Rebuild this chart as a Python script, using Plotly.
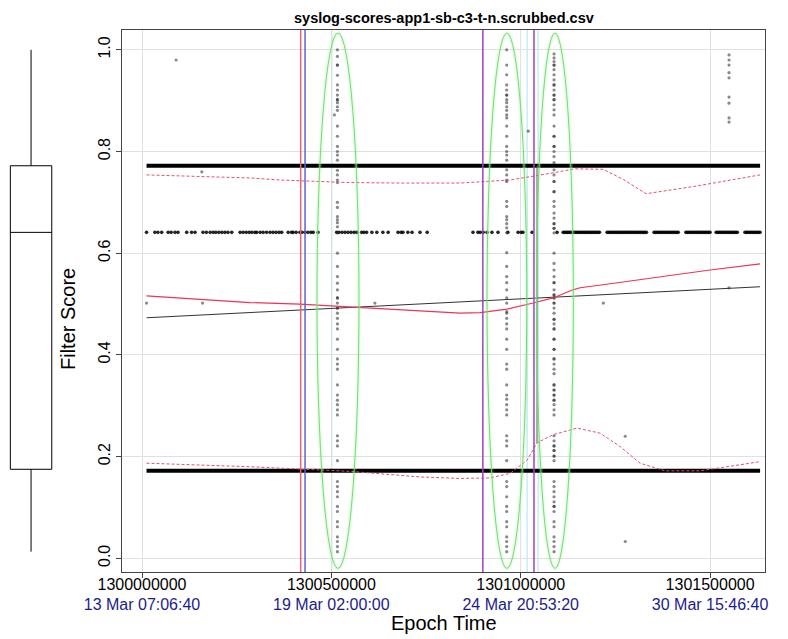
import plotly.graph_objects as go

BASE = 1300000000
# x values stored as thousands of seconds after BASE
band_k = [12, 34, 42, 52, 69, 77, 87, 95, 118, 131, 140, 161, 170, 180, 188, 195, 203, 211, 219, 227,
          237, 259, 267, 275, 283, 290, 298, 303, 312, 320, 329, 338, 346, 354, 362, 369, 386, 395,
          399, 407, 417, 422, 430, 438, 446, 452, 465, 514, 520, 528, 536, 544, 552, 560, 567, 580,
          586, 593, 607, 620, 636, 650, 676, 684, 689, 702, 713, 734, 753, 874, 887, 893, 901, 911,
          924, 940, 966, 993, 1001, 1006, 1030, 1096, 1112, 1116, 1120, 1124, 1128, 1132, 1136, 1140,
          1144, 1148, 1152, 1156, 1160, 1164, 1168, 1172, 1176, 1180, 1184, 1188, 1192, 1196, 1200,
          1204, 1208, 1228, 1232, 1236, 1240, 1244, 1248, 1252, 1256, 1260, 1264, 1268, 1272, 1276,
          1280, 1284, 1288, 1292, 1296, 1300, 1304, 1308, 1312, 1316, 1320, 1324, 1328, 1332, 1352,
          1356, 1360, 1364, 1368, 1372, 1376, 1380, 1384, 1388, 1392, 1396, 1400, 1404, 1408, 1412,
          1416, 1436, 1440, 1444, 1448, 1452, 1456, 1460, 1464, 1468, 1472, 1476, 1480, 1484, 1488,
          1492, 1496, 1500, 1516, 1520, 1524, 1528, 1532, 1536, 1540, 1544, 1548, 1552, 1556, 1560,
          1564, 1568, 1572, 1592, 1596, 1600, 1604, 1608, 1612, 1616, 1620, 1624, 1628, 1632]
band_score = 0.641

col1_k = 516
col1_scores = [1.0, 0.987, 0.97, 0.97, 0.95, 0.931, 0.921, 0.911, 0.902, 0.902, 0.896, 0.888, 0.881,
               0.85, 0.83, 0.81, 0.80, 0.793, 0.783, 0.772, 0.772, 0.763, 0.754, 0.744, 0.739, 0.70,
               0.69, 0.672, 0.666, 0.66, 0.652, 0.64, 0.60, 0.574, 0.554, 0.541, 0.528, 0.512, 0.512,
               0.502, 0.492, 0.492, 0.482, 0.472, 0.461, 0.451, 0.431, 0.411, 0.392, 0.382, 0.372,
               0.341, 0.321, 0.311, 0.302, 0.292, 0.282, 0.241, 0.231, 0.221, 0.192, 0.172, 0.151,
               0.141, 0.131, 0.121, 0.102, 0.092, 0.072, 0.062, 0.042, 0.033, 0.023, 0.013]
col2_k = 963
col2_scores = [1.0, 0.97, 0.951, 0.931, 0.921, 0.911, 0.911, 0.902, 0.896, 0.888, 0.881, 0.872, 0.866,
               0.85, 0.83, 0.81, 0.80, 0.793, 0.783, 0.764, 0.754, 0.744, 0.741, 0.702, 0.692, 0.672,
               0.666, 0.658, 0.65, 0.64, 0.601, 0.574, 0.554, 0.542, 0.528, 0.512, 0.502, 0.485, 0.482,
               0.472, 0.461, 0.451, 0.431, 0.411, 0.382, 0.372, 0.341, 0.321, 0.313, 0.302, 0.292,
               0.282, 0.241, 0.231, 0.221, 0.192, 0.151, 0.141, 0.121, 0.102, 0.092, 0.072, 0.062,
               0.042, 0.033, 0.023, 0.013]
col3_k = 1088
col3_scores = [0.992, 0.984, 0.977, 0.97, 0.97, 0.961, 0.951, 0.941, 0.931, 0.931, 0.921, 0.911, 0.911,
               0.902, 0.902, 0.892, 0.882, 0.872, 0.85, 0.83, 0.83, 0.81, 0.81, 0.80, 0.79, 0.778,
               0.764, 0.754, 0.741, 0.741, 0.721, 0.721, 0.702, 0.692, 0.679, 0.669, 0.658, 0.658,
               0.649, 0.649, 0.64, 0.60, 0.58, 0.567, 0.554, 0.542, 0.542, 0.528, 0.518, 0.518, 0.512,
               0.512, 0.502, 0.502, 0.492, 0.482, 0.47, 0.47, 0.461, 0.451, 0.451, 0.431, 0.431, 0.411,
               0.411, 0.392, 0.392, 0.382, 0.372, 0.363, 0.341, 0.341, 0.331, 0.331, 0.321, 0.321,
               0.311, 0.311, 0.302, 0.292, 0.282, 0.241, 0.231, 0.221, 0.221, 0.212, 0.212, 0.201,
               0.201, 0.192, 0.151, 0.141, 0.131, 0.121, 0.111, 0.102, 0.102, 0.092, 0.072, 0.062,
               0.042, 0.033, 0.023, 0.013]

other_k = [90, 158, 12, 160, 615, 1020, 1218, 1276, 1276, 1550, 1550, 1550, 1550, 1550, 1550, 1550,
           1550, 1550, 1550, 508]
other_scores = [0.98, 0.76, 0.502, 0.502, 0.502, 0.84, 0.502, 0.24, 0.033, 0.99, 0.98, 0.97, 0.955,
                0.945, 0.907, 0.895, 0.866, 0.858, 0.532, 0.872]

# summary lines
q_k = [12, 1632]
q3 = 0.772
q1 = 0.172
lin_k = [12, 1632]
lin_y = [0.473, 0.534]
step_k = [1043, 1043]
step_y = [0.227, 0.772]

loess_k = [12, 153, 285, 417, 549, 681, 787, 840, 893, 964, 1033, 1085, 1138, 1157, 1217, 1368, 1500, 1632]
loess_y = [0.516, 0.509, 0.503, 0.4997, 0.494, 0.488, 0.483, 0.482, 0.483, 0.49, 0.502, 0.512, 0.528,
           0.532, 0.538, 0.554, 0.567, 0.579]
upper_k = [12, 285, 364, 541, 681, 840, 972, 1025, 1085, 1143, 1218, 1271, 1331, 1455, 1632]
upper_y = [0.754, 0.748, 0.744, 0.739, 0.738, 0.738, 0.744, 0.75, 0.758, 0.766, 0.765, 0.745, 0.717,
           0.731, 0.754]
lower_k = [12, 285, 549, 734, 840, 919, 972, 1017, 1043, 1085, 1149, 1210, 1262, 1315, 1381, 1474, 1632]
lower_y = [0.187, 0.18, 0.171, 0.16, 0.157, 0.158, 0.167, 0.193, 0.227, 0.243, 0.256, 0.246, 0.22,
           0.187, 0.172, 0.172, 0.19]

event_k = [419, 430.5, 900, 1035]
event_colors = ["#f06070", "#6060d8", "#a040c8", "#a040c8"]
faint_k = [501, 1017, 1046]

ellipse_k = [(462, 573), (911, 1016), (1042, 1139)]
ellipse_y = (-0.02, 1.033)

box_stats = dict(q1=0.175, median=0.641, q3=0.772, lower=0.013, upper=1.0)

tick_vals = [1300000000, 1300500000, 1301000000, 1301500000]
tick_dates = ["13 Mar 07:06:40", "19 Mar 02:00:00", "24 Mar 20:53:20", "30 Mar 15:46:40"]
y_ticks = [0.0, 0.2, 0.4, 0.6, 0.8, 1.0]

Y_RANGE = [-0.027, 1.039]
X_RANGE = [1299947200, 1301645000]


def ex(ks):
    return [BASE + k * 1000 for k in ks]


fig = go.Figure()
for k in faint_k:
    fig.add_shape(type="line", xref="x", yref="paper", x0=BASE + k * 1000, x1=BASE + k * 1000,
                  y0=0, y1=1, line=dict(color="#c6eef6", width=1.5), layer="below")

pt = dict(mode="markers", marker=dict(size=3.2, color="rgba(40,40,40,0.55)"), showlegend=False,
          hoverinfo="skip")
fig.add_trace(go.Scatter(x=ex(band_k), y=[band_score] * len(band_k), mode="markers",
                         marker=dict(size=3.6, color="rgba(0,0,0,0.85)"), showlegend=False))
for ck, cs in [(col1_k, col1_scores), (col2_k, col2_scores), (col3_k, col3_scores)]:
    fig.add_trace(go.Scatter(x=ex([ck] * len(cs)), y=cs, **pt))
fig.add_trace(go.Scatter(x=ex(other_k), y=other_scores, **pt))

fig.add_trace(go.Scatter(x=ex(q_k), y=[q3, q3], mode="lines", line=dict(color="black", width=4),
                         showlegend=False))
fig.add_trace(go.Scatter(x=ex(q_k), y=[q1, q1], mode="lines", line=dict(color="black", width=4),
                         showlegend=False))
fig.add_trace(go.Scatter(x=ex(lin_k), y=lin_y, mode="lines", line=dict(color="#333333", width=1),
                         showlegend=False))
fig.add_trace(go.Scatter(x=ex(step_k), y=step_y, mode="lines", line=dict(color="#555555", width=1),
                         showlegend=False))
fig.add_trace(go.Scatter(x=ex(loess_k), y=loess_y, mode="lines", line=dict(color="#ee3355", width=1.2),
                         showlegend=False))
fig.add_trace(go.Scatter(x=ex(upper_k), y=upper_y, mode="lines",
                         line=dict(color="#e8506a", width=1, dash="3px,2px"), showlegend=False))
fig.add_trace(go.Scatter(x=ex(lower_k), y=lower_y, mode="lines",
                         line=dict(color="#e8506a", width=1, dash="3px,2px"), showlegend=False))

for k, c in zip(event_k, event_colors):
    fig.add_shape(type="line", xref="x", yref="paper", x0=BASE + k * 1000, x1=BASE + k * 1000,
                  y0=0, y1=1, line=dict(color=c, width=1.5))
for k0, k1 in ellipse_k:
    fig.add_shape(type="circle", xref="x", yref="y", x0=BASE + k0 * 1000, x1=BASE + k1 * 1000,
                  y0=ellipse_y[0], y1=ellipse_y[1], line=dict(color="rgba(150,240,150,0.22)", width=4))
    fig.add_shape(type="circle", xref="x", yref="y", x0=BASE + k0 * 1000, x1=BASE + k1 * 1000,
                  y0=ellipse_y[0], y1=ellipse_y[1], line=dict(color="#70dd70", width=1))

fig.add_trace(go.Box(x=[0.45], q1=[box_stats["q1"]], median=[box_stats["median"]], q3=[box_stats["q3"]],
                     lowerfence=[box_stats["lower"]], upperfence=[box_stats["upper"]],
                     xaxis="x2", yaxis="y2", width=0.6, whiskerwidth=0, fillcolor="white",
                     line=dict(color="black", width=1), showlegend=False, boxpoints=False))
# second-line (date) tick labels on an overlaying axis
fig.add_trace(go.Scatter(x=X_RANGE, y=[None, None], xaxis="x3", yaxis="y", showlegend=False,
                         hoverinfo="skip"))

fig.update_layout(
    width=788, height=639, margin=dict(l=0, r=23, t=30, b=67, autoexpand=False),
    paper_bgcolor="white", plot_bgcolor="white", showlegend=False,
    font=dict(family="Liberation Sans, Arial, sans-serif", color="black"),
    xaxis=dict(domain=[122 / 765, 1], range=X_RANGE, tickvals=tick_vals,
               ticktext=[str(v) for v in tick_vals], tickfont=dict(size=16), ticks="outside",
               ticklen=5, tickcolor="#444", showgrid=True, gridcolor="#e0e0e0", gridwidth=1,
               zeroline=False, showline=True, linecolor="#444", linewidth=1, mirror=True,
               ticklabelstandoff=-7, automargin=False, anchor="y"),
    xaxis3=dict(overlaying="x", range=X_RANGE, tickvals=tick_vals, ticktext=tick_dates,
                tickfont=dict(size=16, color="#1c1c8c"), ticks="", showgrid=False, zeroline=False,
                showline=False, side="bottom", anchor="y", ticklabelstandoff=21, automargin=False),
    xaxis2=dict(domain=[0, 69 / 765], range=[0, 1], visible=False, anchor="y2", automargin=False),
    yaxis=dict(range=Y_RANGE, tickvals=y_ticks, ticktext=[f"{v:.1f}" for v in y_ticks],
               tickangle=-90, tickfont=dict(size=16), ticks="outside", ticklen=5, tickcolor="#444",
               showgrid=True, gridcolor="#e0e0e0", gridwidth=1, zeroline=False, showline=True,
               linecolor="#444", linewidth=1, mirror=True, anchor="x", automargin=False),
    yaxis2=dict(range=Y_RANGE, visible=False, anchor="x2", automargin=False),
    annotations=[
        dict(text="<b>syslog-scores-app1-sb-c3-t-n.scrubbed.csv</b>", xref="paper", yref="paper",
             x=(122 + 765) / 2 / 765, y=1, yshift=12, showarrow=False, font=dict(size=14.5),
             xanchor="center", yanchor="middle"),
        dict(text="Epoch Time", xref="paper", yref="paper", x=(122 + 765) / 2 / 765, y=0,
             yshift=-51, showarrow=False, font=dict(size=20), xanchor="center", yanchor="middle"),
        dict(text="Filter Score", xref="paper", yref="paper", x=68 / 765, y=(572 - 319) / 542,
             showarrow=False, font=dict(size=20), textangle=-90, xanchor="center", yanchor="middle"),
    ],
)

fig.write_html("out.html")
